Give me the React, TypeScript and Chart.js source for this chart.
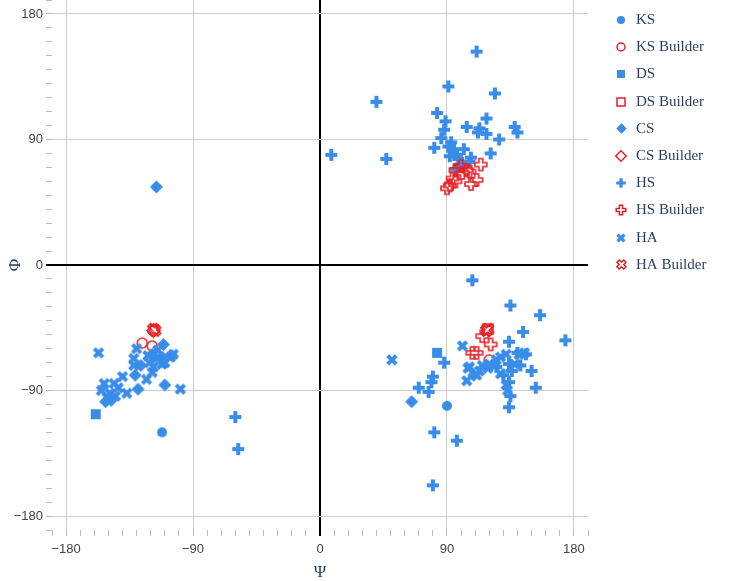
import React, { useEffect, useRef } from 'react';
import { Chart, registerables } from 'chart.js';

Chart.register(...registerables);

// ---------------- data (Ψ = x, Φ = y) ----------------
const ksPsi = [-112, 90];
const ksPhi = [-120, -101];

const ksBuilderPsi = [-126, -119, 120];
const ksBuilderPhi = [-56, -58, -68];

const dsPsi = [-159, 83];
const dsPhi = [-107, -63];

const dsBuilderPsi = [119];
const dsBuilderPhi = [-46];

const csPsi = [-116, 65, -111, -105, -131, -129, -110, -152, -148, -127, -119, -112, 109];
const csPhi = [56, -98, -57, -65, -79, -89, -86, -98, -97, -72, -64, -66, -79];

const csBuilderPsi = [-118];
const csBuilderPhi = [-47];

const hsPsi = [
  111, 91, 124, 40, 83, 89, 118, 104, 113, 138, 140, 127, 118, 112, 88, 86, 81, 47, 91, 94, 97, 92,
  121, 107, 106, 8, 98, 100, 96, 102, 93, 95,
  -60, -58,
  108, 135, 156, 144, 134, 174, 88, 150, 153, 134, 135, 134, 142, 146, 140, 136, 130, 134, 125, 80,
  79, 70, 77, 81, 97, 80,
];
const hsPhi = [
  153, 128, 123, 117, 109, 103, 105, 99, 98, 99, 95, 90, 94, 95, 97, 91, 84, 76, 85, 82, 79, 78,
  80, 77, 74, 79, 76, 72, 69, 83, 88, 83,
  -109, -132,
  -11, -29, -36, -48, -55, -54, -70, -76, -88, -102, -94, -84, -72, -64, -63, -76, -79, -71, -73, -80,
  -84, -88, -91, -120, -126, -158,
];

const hsBuilderPsi = [100, 104, 114, 96, 94, 96, 92, 90, 107, 111, 106, 101, 115, 121, 108, 111];
const hsBuilderPhi = [71, 68, 72, 68, 62, 60, 57, 55, 58, 61, 67, 66, -51, -57, -63, -63];

const haPsi = [
  -157, -130, -132, -132, -123, -119, -115, -122, -121, -99, -137, -140, -146, -153, -155, -151, -145,
  -149, -143, -116, -106, -104, -110, -112, -118,
  51, 101, 104, 106, 111, 119, 125, 128, 132, 128, 132, 133, 141, 145, 115, 113, 124, 120, 138, 105,
];
const haPhi = [
  -63, -60, -67, -72, -82, -77, -61, -65, -70, -89, -92, -80, -85, -85, -90, -95, -94,
  -92, -88, -67, -66, -64, -70, -71, -73,
  -68, -58, -83, -73, -79, -74, -68, -66, -64, -78, -86, -90, -64, -63, -72, -76, -72, -71, -71, -74,
];

const haBuilderPsi = [-118, -117, 119, 118];
const haBuilderPhi = [-46, -47, -46, -47];

const axisMin = -190;
const axisMax = 190;
const minorStep = 10;
const majorStep = 90;

const BLUE = 'rgb(57,141,232)';
const RED = 'rgb(230,32,38)';
const TEXT = '#2a3f5f';

type Shape = 'circle' | 'square' | 'diamond' | 'cross' | 'x';

function markerImage(shape: Shape, color: string, open: boolean, size: number, lw: number) {
  const r = size / 2;
  const ext =
    shape === 'diamond' ? r * 1.3 : shape === 'cross' ? r * 1.2 : shape === 'x' ? r * 0.8 * Math.SQRT2 : r;
  const dim = Math.ceil(2 * ext + lw + 2);
  const c = document.createElement('canvas');
  c.width = dim;
  c.height = dim;
  const g = c.getContext('2d')!;
  g.translate(dim / 2, dim / 2);
  g.beginPath();
  if (shape === 'circle') {
    g.arc(0, 0, r, 0, Math.PI * 2);
  } else if (shape === 'square') {
    g.rect(-r, -r, 2 * r, 2 * r);
  } else if (shape === 'diamond') {
    const d = r * 1.3;
    g.moveTo(d, 0);
    g.lineTo(0, d);
    g.lineTo(-d, 0);
    g.lineTo(0, -d);
    g.closePath();
  } else if (shape === 'cross') {
    const a = r * 0.4;
    const b = r * 1.2;
    const pts = [
      [b, a], [a, a], [a, b], [-a, b], [-a, a], [-b, a], [-b, -a], [-a, -a], [-a, -b], [a, -b], [a, -a], [b, -a],
    ];
    pts.forEach(([px, py], i) => (i ? g.lineTo(px, py) : g.moveTo(px, py)));
    g.closePath();
  } else {
    const k = (r * 0.8) / Math.SQRT2;
    const pts = [
      [0, k], [k, 2 * k], [2 * k, k], [k, 0], [2 * k, -k], [k, -2 * k], [0, -k], [-k, -2 * k], [-2 * k, -k],
      [-k, 0], [-2 * k, k], [-k, 2 * k],
    ];
    pts.forEach(([px, py], i) => (i ? g.lineTo(px, py) : g.moveTo(px, py)));
    g.closePath();
  }
  if (open) {
    g.strokeStyle = color;
    g.lineWidth = lw;
    g.lineJoin = 'miter';
    g.stroke();
  } else {
    g.fillStyle = color;
    g.fill();
  }
  return c;
}

const fmt = (v: number) => (v < 0 ? '\u2212' + Math.abs(v) : String(v));

const legendPlugin = {
  id: 'markerLegend',
  afterDraw(chart: any, _args: any, opts: any) {
    const ctx = chart.ctx;
    ctx.save();
    ctx.font = opts.font;
    ctx.fillStyle = opts.color;
    ctx.textBaseline = 'middle';
    ctx.textAlign = 'left';
    chart.data.datasets.forEach((ds: any, i: number) => {
      const y = opts.top + i * opts.step;
      const img = ds.legendMarker as HTMLCanvasElement;
      ctx.drawImage(img, Math.round(opts.markerX - img.width / 2), Math.round(y - img.height / 2));
      ctx.fillText(ds.label, opts.textX, y);
    });
    ctx.restore();
  },
};

export default function App() {
  const ref = useRef<HTMLCanvasElement | null>(null);

  useEffect(() => {
    if (!ref.current) return;
    const PLOT = 10;
    const LEG = 8;
    const defs: [string, number[], number[], Shape, string, boolean][] = [
      ['KS', ksPsi, ksPhi, 'circle', BLUE, false],
      ['KS Builder', ksBuilderPsi, ksBuilderPhi, 'circle', RED, true],
      ['DS', dsPsi, dsPhi, 'square', BLUE, false],
      ['DS Builder', dsBuilderPsi, dsBuilderPhi, 'square', RED, true],
      ['CS', csPsi, csPhi, 'diamond', BLUE, false],
      ['CS Builder', csBuilderPsi, csBuilderPhi, 'diamond', RED, true],
      ['HS', hsPsi, hsPhi, 'cross', BLUE, false],
      ['HS Builder', hsBuilderPsi, hsBuilderPhi, 'cross', RED, true],
      ['HA', haPsi, haPhi, 'x', BLUE, false],
      ['HA Builder', haBuilderPsi, haBuilderPhi, 'x', RED, true],
    ];
    const datasets = defs.map(([label, xs, ys, shape, color, open], i) => ({
      label,
      data: xs.map((x, j) => ({ x, y: ys[j] })),
      pointStyle: markerImage(shape, color, open, PLOT, open ? 1.6 : 0),
      legendMarker: markerImage(shape, color, open, LEG, open ? 1.5 : 0),
      pointRadius: 5,
      showLine: false,
      order: defs.length - i,
    }));

    const gridColor = (ctx: any) => {
      const v = ctx.tick?.value;
      if (v === 0) return '#000000';
      return v % majorStep === 0 ? '#cccccc' : 'rgba(0,0,0,0)';
    };
    const gridWidth = (ctx: any) => (ctx.tick?.value === 0 ? 2 : 1);
    const tickColor = (ctx: any) => (ctx.tick?.value === 0 ? '#000000' : '#bbbbbb');
    const family = '"Liberation Sans Narrow", "Liberation Sans", Arial, sans-serif';
    const tickFont = (ctx: any) =>
      ctx.tick && ctx.tick.value % majorStep === 0 ? { family, size: 13 } : { family, size: 1 };
    const titleFont = { family: '"Liberation Serif", "DejaVu Serif", serif', size: 17 };

    const mkScale = (title: string, isX: boolean) => ({
      type: 'linear' as const,
      min: axisMin,
      max: axisMax,
      border: { display: false },
      grid: {
        color: gridColor,
        lineWidth: gridWidth,
        tickColor,
        tickLength: 6,
        drawTicks: true,
      },
      ticks: {
        stepSize: minorStep,
        autoSkip: false,
        maxRotation: 0,
        padding: isX ? 6 : 3,
        color: '#444444',
        font: tickFont,
        callback: (v: any) => (Number(v) % majorStep === 0 ? fmt(Number(v)) : ''),
      },
      title: {
        display: true,
        text: title,
        color: TEXT,
        font: titleFont,
        padding: isX ? { top: 0, bottom: -2 } : { top: 5, bottom: 0 },
      },
      afterFit: (s: any) => {
        if (isX) s.height = 51;
        else s.width = 52;
        s.paddingTop = 0;
        s.paddingBottom = 0;
        s.paddingLeft = 0;
        s.paddingRight = 0;
      },
    });

    const chart = new Chart(ref.current, {
      type: 'scatter',
      data: { datasets: datasets as any },
      options: {
        animation: false,
        responsive: false,
        layout: { autoPadding: false, padding: { top: 0, right: 145, left: 0, bottom: 0 } },
        scales: {
          x: mkScale('\u03A8', true) as any,
          y: mkScale('\u03A6', false) as any,
        },
        plugins: {
          legend: { display: false },
          tooltip: { enabled: false },
          markerLegend: {
            markerX: 621,
            textX: 636,
            top: 20,
            step: 27.2,
            font: '15px "Liberation Serif", "DejaVu Serif", serif',
            color: TEXT,
          },
        } as any,
      },
      plugins: [legendPlugin],
    });
    return () => chart.destroy();
  }, []);

  return (
    <div style={{ position: 'fixed', left: 0, top: 0, width: 733, height: 581, background: '#fff' }}>
      <canvas ref={ref} width={733} height={581} style={{ width: 733, height: 581, display: 'block' }} />
    </div>
  );
}
